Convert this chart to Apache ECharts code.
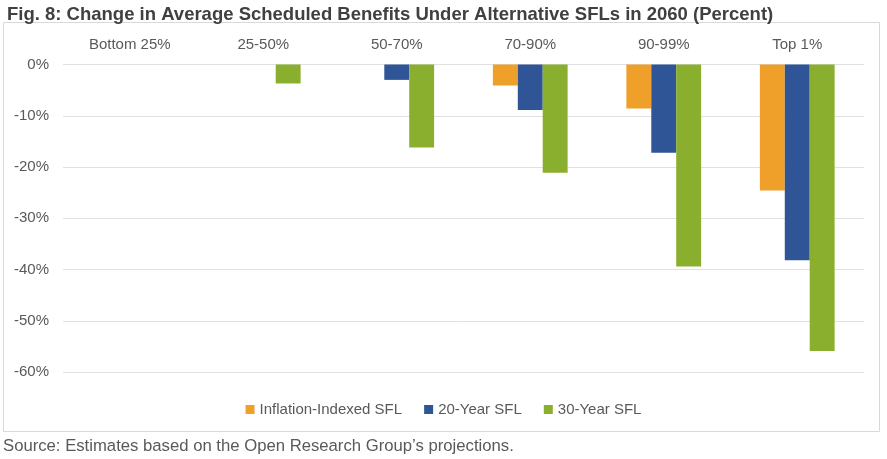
<!DOCTYPE html>
<html>
<head>
<meta charset="utf-8">
<script src="https://cdn.jsdelivr.net/npm/echarts@6/dist/echarts.min.js"></script>
<style>html,body{margin:0;padding:0;background:#fff}#c{width:887px;height:459px}</style>
</head>
<body>
<div id="c"></div>
<script>
var categories = ['Bottom 25%', '25-50%', '50-70%', '70-90%', '90-99%', 'Top 1%'];
var inflationIndexed = [0, 0, 0, -4.1, -8.6, -24.6];
var twentyYear = [0, 0, -3.0, -8.9, -17.2, -38.2];
var thirtyYear = [0, -3.7, -16.2, -21.1, -39.4, -55.9];
var seriesNames = ['Inflation-Indexed SFL', '20-Year SFL', '30-Year SFL'];
var yTicks = [0, -10, -20, -30, -40, -50, -60];

var narrow = '"Liberation Sans Narrow", "Liberation Sans", Arial, sans-serif';
var chart = echarts.init(document.getElementById('c'));
chart.setOption({
  animation: false,
  graphic: [{
    type: 'rect', shape: {x: 3.5, y: 22.5, width: 876, height: 409},
    style: {fill: 'none', stroke: '#d9d9d9', lineWidth: 1}, z: -1
  }, {
    type: 'text', left: 3, top: 438,
    style: {text: 'Source: Estimates based on the Open Research Group\u2019s projections.', font: '16.7px "Liberation Sans", Arial, sans-serif', fill: '#595959'}
  }],
  title: {
    text: 'Fig. 8: Change in Average Scheduled Benefits Under Alternative SFLs in 2060 (Percent)',
    left: 2, top: 0,
    textStyle: {fontFamily: '"Liberation Sans", Arial, sans-serif', fontWeight: 'bold', fontSize: 18.5, color: '#404040'}
  },
  legend: {
    data: seriesNames, bottom: 37, left: 'center', itemWidth: 9, itemHeight: 9, itemGap: 22,
    icon: 'rect',
    textStyle: {fontFamily: narrow, fontSize: 15, color: '#595959'}
  },
  grid: {left: 63, right: 23, top: 64.5, bottom: 87, containLabel: false},
  xAxis: {
    type: 'category', data: categories, position: 'top',
    axisLine: {show: false}, axisTick: {show: false},
    axisLabel: {fontFamily: narrow, fontSize: 15, color: '#595959', margin: 12}
  },
  yAxis: {
    type: 'value', min: -60, max: 0, interval: 10,
    axisLabel: {formatter: function (v) { return v + '%'; }, fontFamily: narrow, fontSize: 15, color: '#595959', margin: 14},
    splitLine: {lineStyle: {color: '#e0e0e0'}},
    axisLine: {show: false}, axisTick: {show: false}
  },
  series: [
    {name: seriesNames[0], type: 'bar', data: inflationIndexed, barGap: '0%', barCategoryGap: '44%', itemStyle: {color: '#EFA02A'}},
    {name: seriesNames[1], type: 'bar', data: twentyYear, barGap: '0%', barCategoryGap: '44%', itemStyle: {color: '#2F5597'}},
    {name: seriesNames[2], type: 'bar', data: thirtyYear, barGap: '0%', barCategoryGap: '44%', itemStyle: {color: '#8AAF2F'}}
  ]
});
</script>
</body>
</html>
